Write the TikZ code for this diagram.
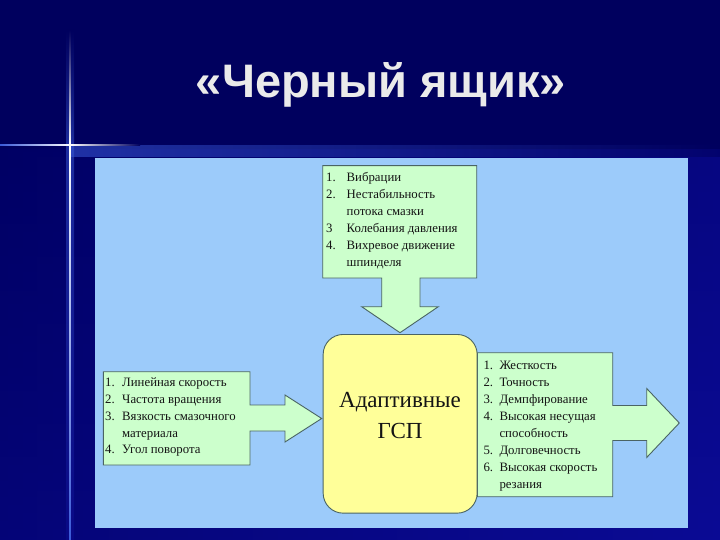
\documentclass[tikz,border=0pt]{standalone}
\usepackage{fontspec}
\setmainfont{Liberation Serif}
\newfontfamily\titlefont{Liberation Sans}
\definecolor{bgtop}{HTML}{00005E}
\definecolor{bgbot}{HTML}{0C0C90}
\definecolor{bgleft}{HTML}{000068}
\definecolor{bgright}{HTML}{0A0A98}
\definecolor{lineblue}{HTML}{3A5AD8}
\definecolor{panelblue}{HTML}{9CCBFA}
\definecolor{palegreen}{HTML}{CCFFCC}
\definecolor{paleyellow}{HTML}{FFFF99}
\definecolor{edgegray}{HTML}{4A6464}
\definecolor{titlegray}{HTML}{EAEAEA}
\definecolor{inktext}{HTML}{141414}
\tikzset{
  callout/.style={fill=palegreen, draw=edgegray, line width=0.9pt, line join=miter},
  listtext/.style={anchor=base west, inner sep=0pt, text=inktext,
    font=\fontsize{12.8}{17}\selectfont},
  coretext/.style={anchor=base, inner sep=0pt, text=inktext,
    font=\fontsize{23}{31}\selectfont}
}
\begin{document}
\begin{tikzpicture}[x=1pt,y=-1pt]
\useasboundingbox (0,0) rectangle (720,540);
% background
\fill[bgtop] (0,0) rectangle (720,540);
\shade[top color=bgtop, bottom color=bgbot] (0,140) rectangle (720,540);
\shade[left color=bgleft, right color=bgright, fill opacity=0.6] (0,150) rectangle (720,540);
\shade[left color=lineblue, right color=bgtop, fill opacity=0.55] (70,146) rectangle (720,157);
% sparkle
\shade[top color=bgtop, bottom color=lineblue, fill opacity=0.5] (66,30) rectangle (74,145);
\shade[top color=lineblue, bottom color=bgbot, fill opacity=0.5] (66,145) rectangle (74,540);
\shade[top color=bgtop, bottom color=white] (69.2,30) rectangle (70.8,145);
\shade[top color=white, bottom color=lineblue] (69.2,145) rectangle (70.8,540);
\shade[left color=lineblue, right color=white] (0,144.2) rectangle (70,145.8);
\shade[left color=white, right color=bgtop] (70,144.2) rectangle (140,145.8);
% title
\node[font=\titlefont\bfseries\fontsize{47}{50}\selectfont, text=titlegray,
  anchor=base, inner sep=0pt] (title) at (381,98) {«Черный ящик»};
% panel
\node[fill=panelblue, inner sep=0pt, minimum width=593pt, minimum height=370pt,
  anchor=north west] (panel) at (95,158) {};
% top callout
\path[callout] (322.7,165.7) -- (476.7,165.7) -- (476.7,278) -- (420,278)
  -- (420,306.7) -- (438.3,306.7) -- (400,332.7) -- (361.7,306.7)
  -- (381.7,306.7) -- (381.7,278) -- (322.7,278) -- cycle;
% left callout
\path[callout] (103.3,371.7) -- (250,371.7) -- (250,405) -- (285,405)
  -- (285,395) -- (321.7,418.5) -- (285,442) -- (285,431) -- (250,431)
  -- (250,465) -- (103.3,465) -- cycle;
% right callout
\path[callout] (477.3,352.7) -- (612.7,352.7) -- (612.7,405.5) -- (646.7,405.5)
  -- (646.7,388.5) -- (679.3,423) -- (646.7,457.5) -- (646.7,440.5)
  -- (612.7,440.5) -- (612.7,496.7) -- (477.3,496.7) -- cycle;
% core box
\node[fill=paleyellow, draw=edgegray, line width=0.9pt, rounded corners=20pt,
  inner sep=0pt, minimum width=154pt, minimum height=178.7pt, anchor=north west]
  (core) at (322.7,334) {};
\node[coretext] (core1) at (400,407) {Адаптивные};
\node[coretext] (core2) at (400,438) {ГСП};
% lists
\node[listtext] (toplist) at (326,181.7) {\begin{tabular}[t]{@{}p{20.5pt}@{}l@{}}
1. & Вибрации\\
2. & Нестабильность\\
   & потока смазки\\
3  & Колебания давления\\
4. & Вихревое движение\\
   & шпинделя
\end{tabular}};
\node[listtext, font=\fontsize{12.8}{16.8}\selectfont] (leftlist) at (105,386.7) {\begin{tabular}[t]{@{}p{17pt}@{}l@{}}
1. & Линейная скорость\\
2. & Частота вращения\\
3. & Вязкость смазочного\\
   & материала\\
4. & Угол поворота
\end{tabular}};
\node[listtext] (rightlist) at (483.3,369) {\begin{tabular}[t]{@{}p{16pt}@{}l@{}}
1. & Жесткость\\
2. & Точность\\
3. & Демпфирование\\
4. & Высокая несущая\\
   & способность\\
5. & Долговечность\\
6. & Высокая скорость\\
   & резания
\end{tabular}};
\end{tikzpicture}
\end{document}
